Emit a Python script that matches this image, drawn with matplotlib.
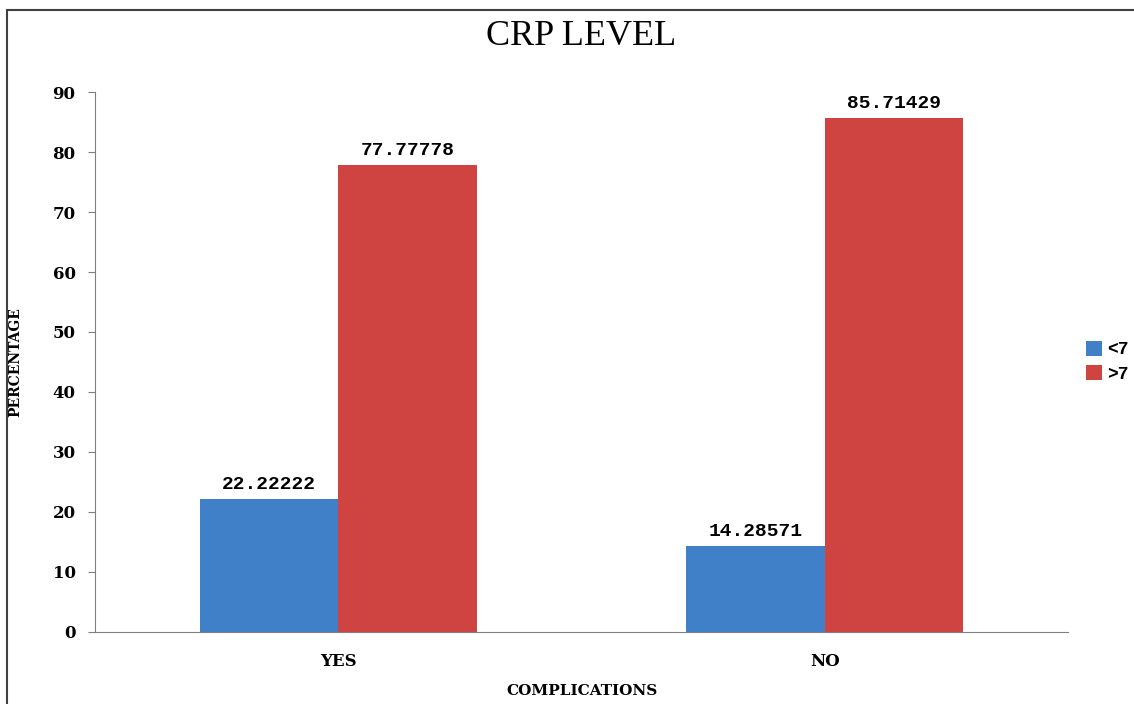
import matplotlib.pyplot as plt
from matplotlib.patches import Rectangle
import numpy as np

categories = ['YES', 'NO']
series_names = ['<7', '>7']
low_vals = [22.22222, 14.28571]
high_vals = [77.77778, 85.71429]
colors = ['#4080C8', '#CF4440']

fig = plt.figure(figsize=(11.34, 7.04), dpi=100)
ax = fig.add_axes([0.0838, 0.1023, 0.858, 0.767])

x = np.arange(len(categories))
w = 0.285
b1 = ax.bar(x - w / 2, low_vals, w, color=colors[0], label=series_names[0])
b2 = ax.bar(x + w / 2, high_vals, w, color=colors[1], label=series_names[1])

font = 'DejaVu Serif'
mono = 'Liberation Mono'
for bars, vals in [(b1, low_vals), (b2, high_vals)]:
    for r, v in zip(bars, vals):
        ax.text(r.get_x() + r.get_width() / 2, v + 1.0, '%.5f' % v,
                ha='center', va='bottom', fontsize=14, fontweight='bold',
                family=mono)

ax.set_xlim(-0.5, 1.5)
ax.set_ylim(0, 90)
ax.set_yticks(range(0, 91, 10))
ax.set_xticks(x)
ax.set_xticklabels(categories, fontsize=12, fontweight='bold', family=font)
for lbl in ax.get_yticklabels():
    lbl.set_fontsize(12)
    lbl.set_fontweight('bold')
    lbl.set_family(font)
ax.tick_params(axis='x', length=0, pad=15)
ax.tick_params(axis='y', length=5, color='#808080', pad=9)
for s in ['top', 'right']:
    ax.spines[s].set_visible(False)
ax.spines['left'].set_color('#808080')
ax.spines['bottom'].set_color('#808080')

ax.set_title('CRP LEVEL', fontsize=26, family='Liberation Serif', pad=34)
ax.set_xlabel('COMPLICATIONS', fontsize=11, fontweight='bold', family=font,
              labelpad=10)
ax.set_ylabel('PERCENTAGE', fontsize=10, fontweight='bold', family=font,
              labelpad=22)

leg = fig.legend(loc='center left', bbox_to_anchor=(0.943, 0.486),
                 frameon=False, handlelength=0.9, handleheight=0.9,
                 handletextpad=0.3, labelspacing=0.4,
                 prop={'family': mono, 'weight': 'bold', 'size': 13})

fig.patches.append(Rectangle((7 / 1134, -0.1), 1.2, 1.1 - 10 / 704,
                             transform=fig.transFigure, fill=False,
                             edgecolor='#404040', linewidth=1.5))

fig.savefig('out.png', dpi=100)
